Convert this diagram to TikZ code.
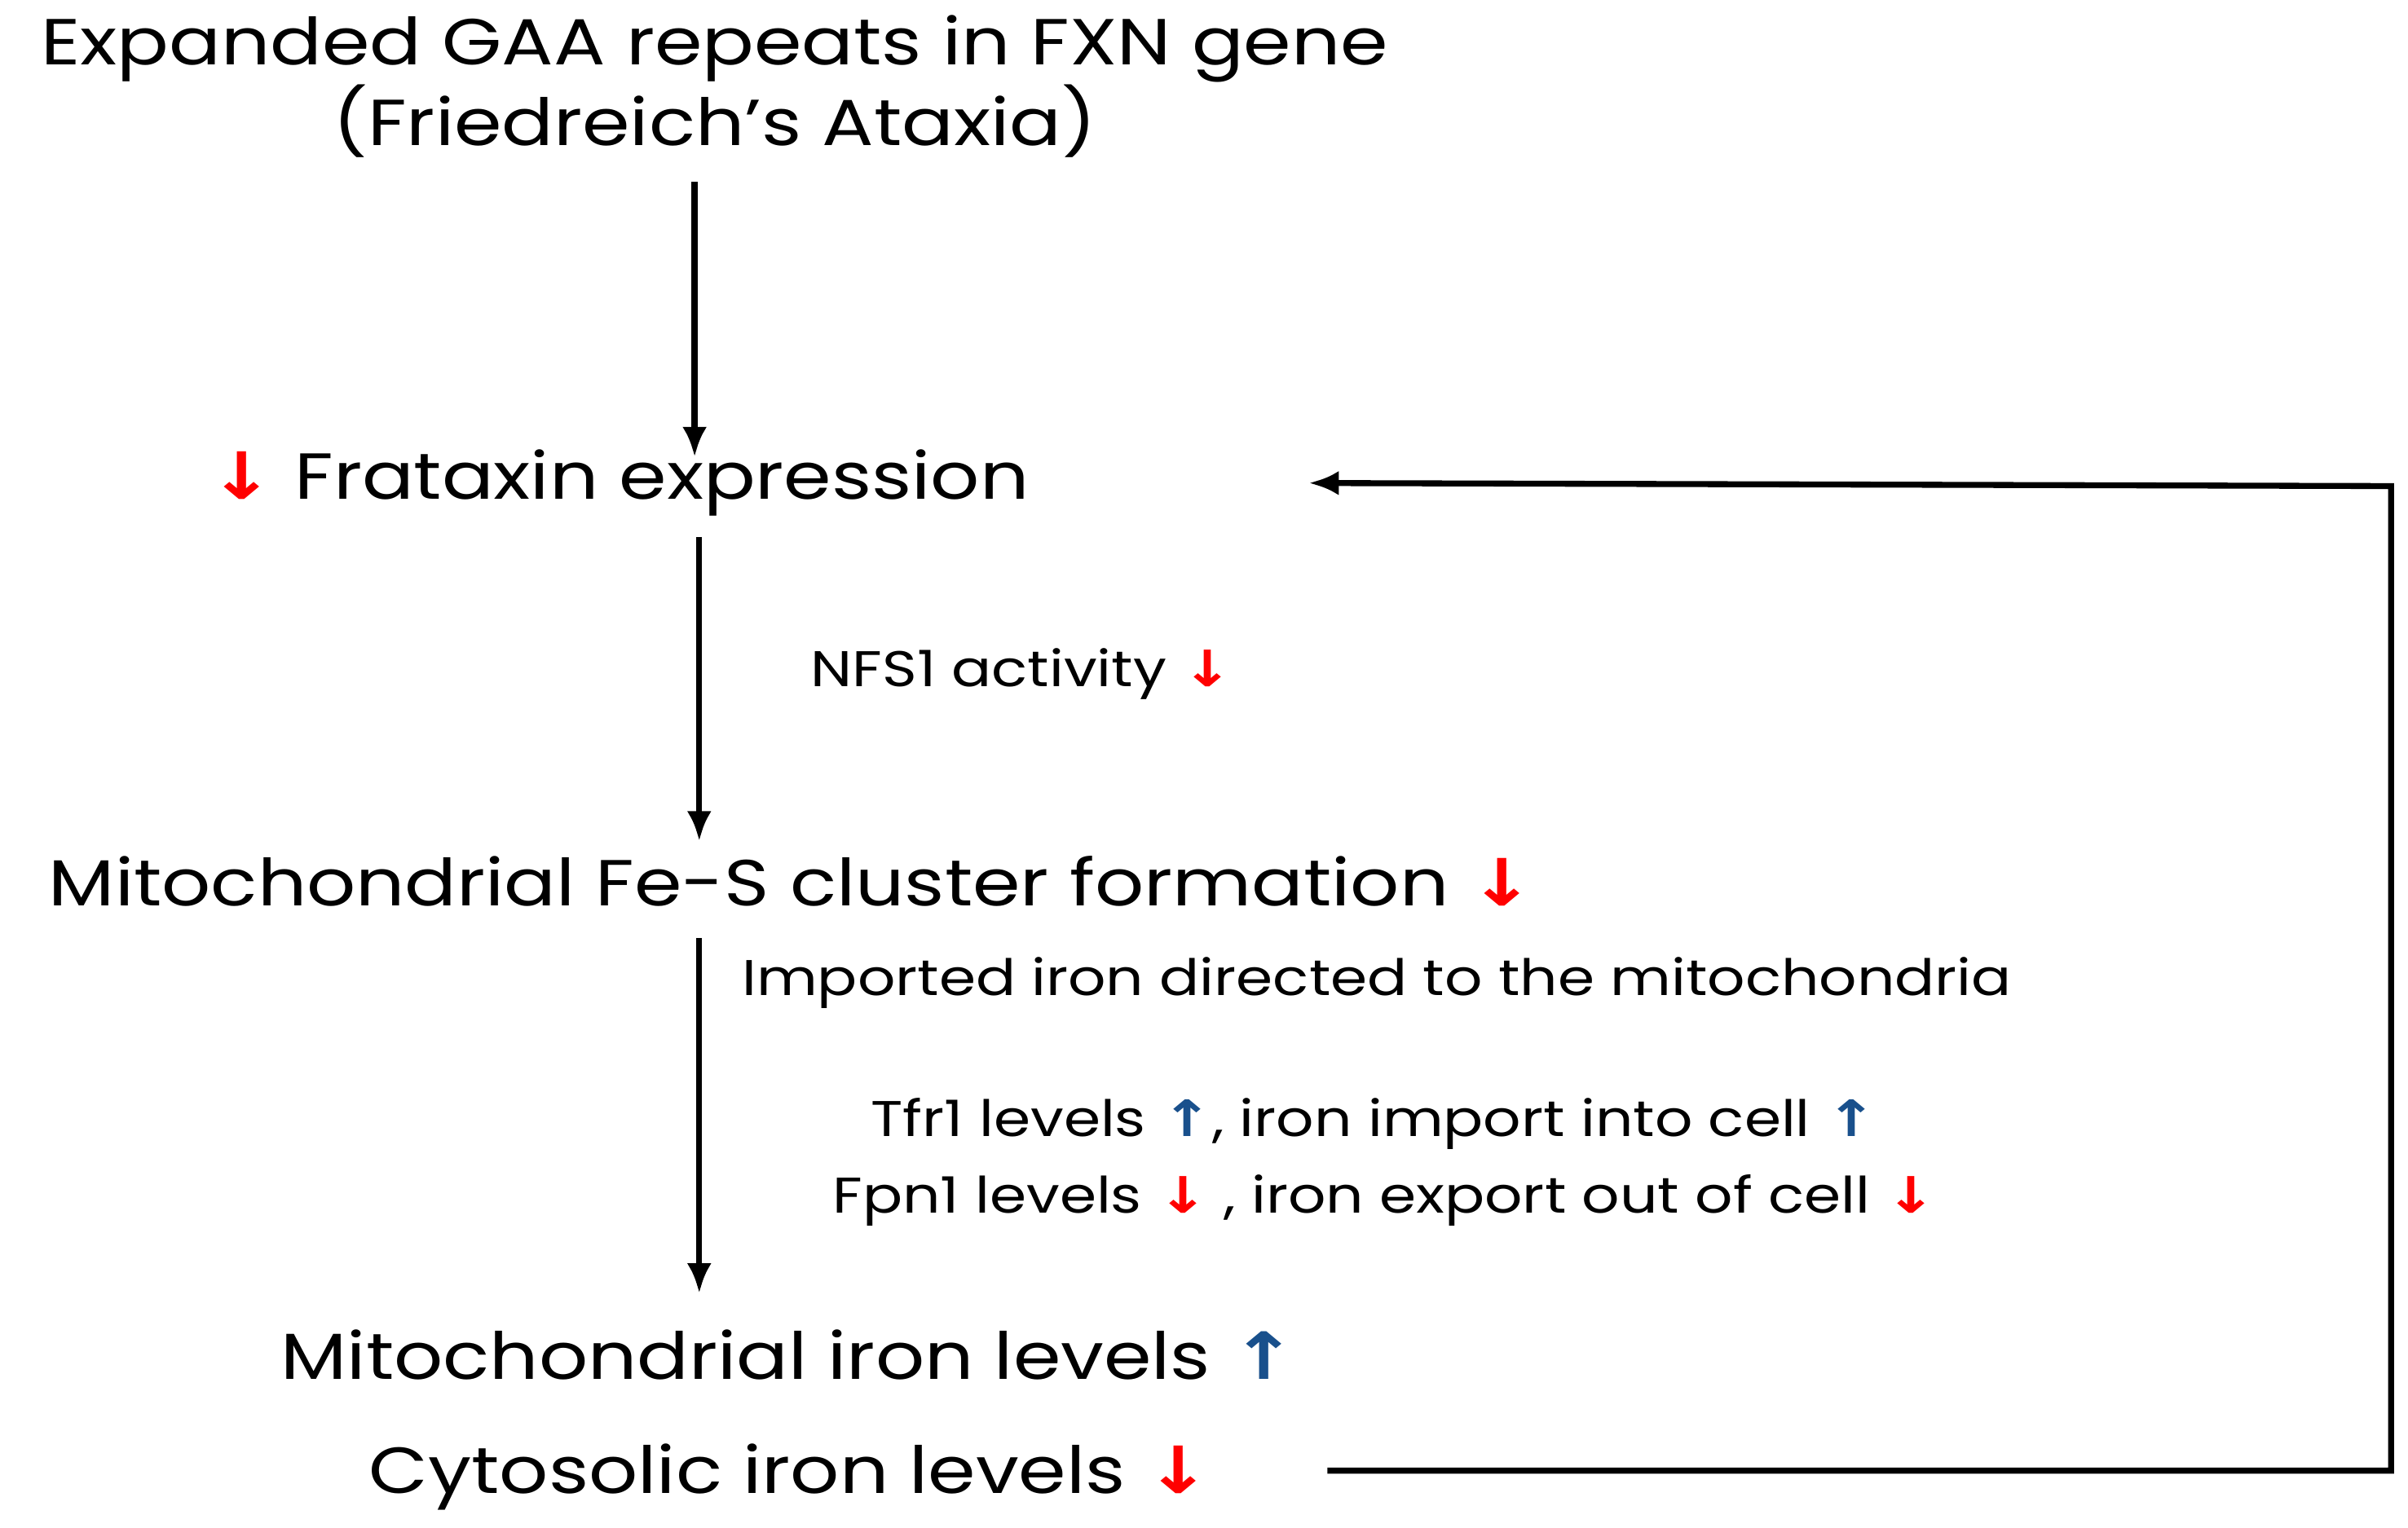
\documentclass[tikz,border=0pt]{standalone}
\usepackage{fontspec}
\setmainfont{Poppins}[FakeStretch=1.18]
\newfontfamily\arrf{DejaVu Sans}[FakeStretch=1.2]
\definecolor{ablue}{RGB}{25,80,140}
\newcommand{\dnA}{{\color{red}\arrf\bfseries ↓}}
\newcommand{\upA}{{\color{ablue}\arrf\bfseries ↑}}
\usetikzlibrary{arrows.meta}
\begin{document}
\begin{tikzpicture}[x=0.02cm,y=-0.02cm,
  big/.style={inner sep=0pt,font=\fontsize{24}{30}\selectfont,align=center},
  mid/.style={inner sep=0pt,font=\fontsize{18.5}{24}\selectfont},
  arr/.style={line width=2.2pt,-{Latex[length=11pt,width=9pt]}}]
\useasboundingbox (0,0) rectangle (1560,990);
\node[big] (t) at (463,56) {Expanded GAA repeats in FXN gene\\(Friedreich's Ataxia)};
\node[big] (f) at (401,313) {\dnA\ Frataxin expression};
\node[mid] (n) at (662,437) {NFS1 activity \dnA};
\node[big] (m) at (513,571) {Mitochondrial Fe-S cluster formation \dnA};
\node[mid] (i) at (892,637) {Imported iron directed to the mitochondria};
\node[mid] (tf) at (890,728) {Tfr1 levels \upA, iron import into cell \upA};
\node[mid] (fp) at (897,778) {Fpn1 levels \dnA\ , iron export out of cell \dnA};
\node[big] (mi) at (511,878) {Mitochondrial iron levels \upA};
\node[big] (c) at (512,957) {Cytosolic iron levels \dnA};
\coordinate (a1) at (450,118); \coordinate (b1) at (450,296);
\coordinate (a2) at (453,348); \coordinate (b2) at (453,545);
\coordinate (a3) at (453,608); \coordinate (b3) at (453,838);
\coordinate (s) at (860,953); \coordinate (e) at (848,313);
\draw[arr] (a1) -- (b1);
\draw[arr] (a2) -- (b2);
\draw[arr] (a3) -- (b3);
\draw[arr] (s) -- (1549,953) -- (1549,315) -- (e);
\end{tikzpicture}
\end{document}
